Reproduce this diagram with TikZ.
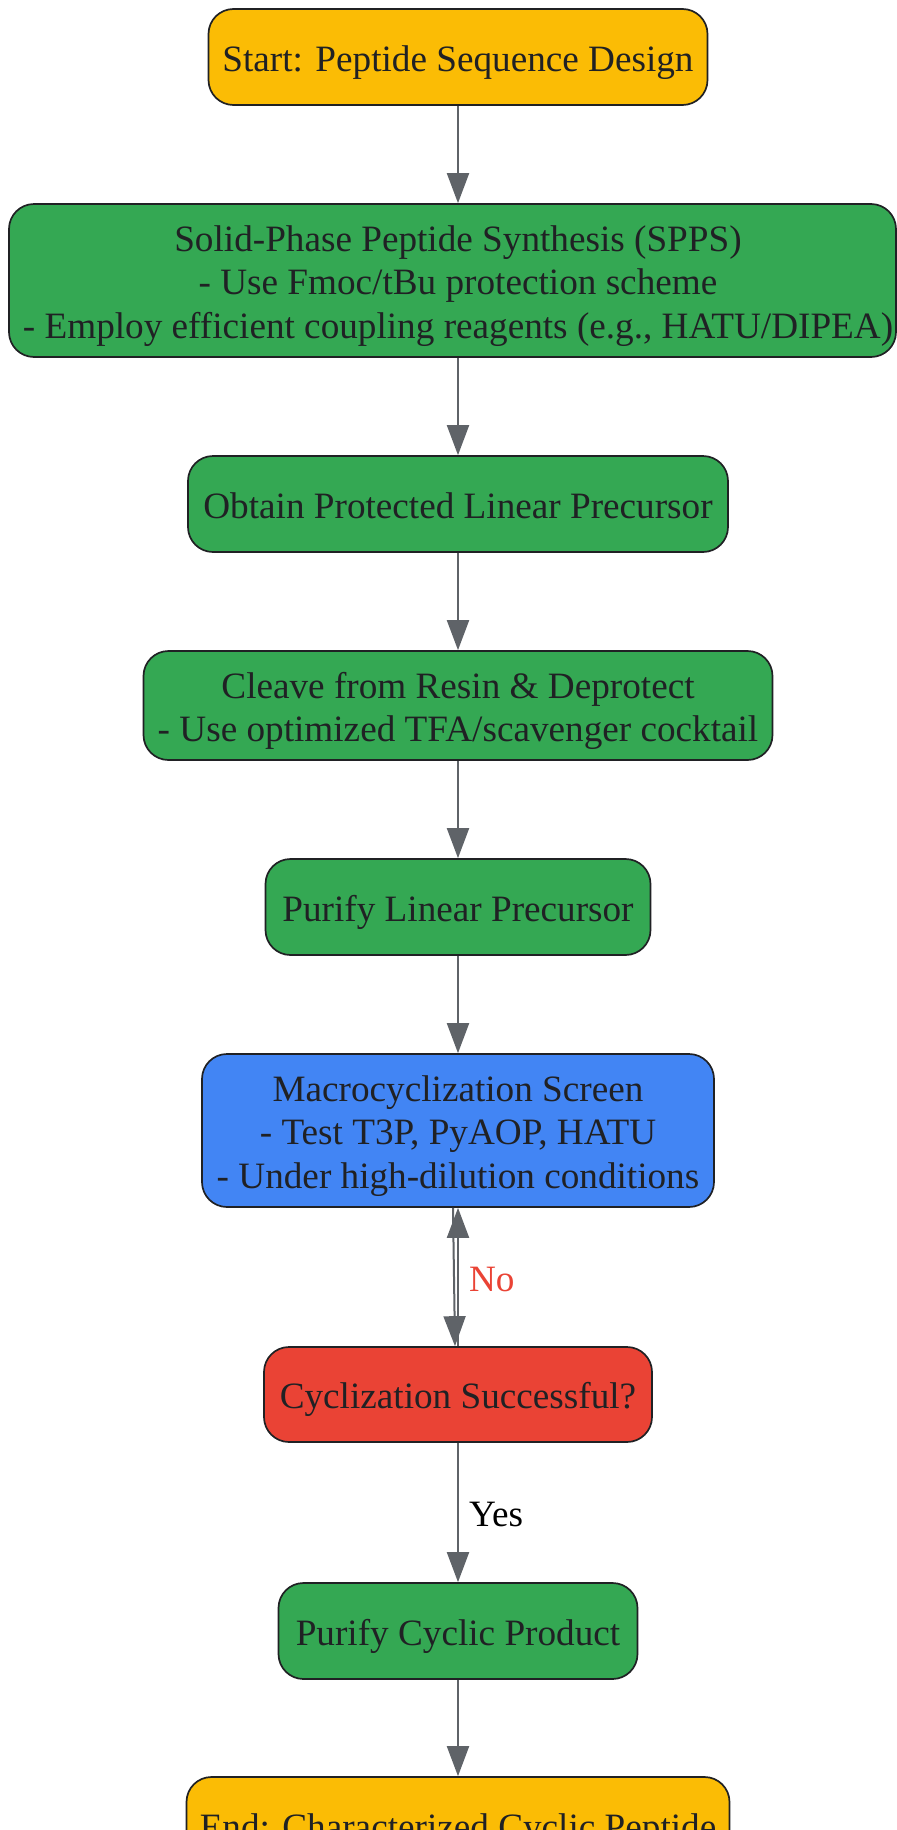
\documentclass[tikz,border=0pt]{standalone}
\usepackage{fontspec}
\setmainfont{Liberation Serif}
\usetikzlibrary{arrows.meta}
\definecolor{cyellow}{HTML}{FBBC05}
\definecolor{cgreen}{HTML}{34A853}
\definecolor{cblue}{HTML}{4285F4}
\definecolor{cred}{HTML}{EA4335}
\definecolor{cedge}{HTML}{5F6368}
\definecolor{ctext}{HTML}{202124}
\definecolor{cborder}{HTML}{202124}
\newcommand{\topst}{\rule{0pt}{1.02em}}
\newcommand{\botst}{\rule[-0.25em]{0pt}{0.25em}}
\begin{document}
\begin{tikzpicture}[x=1bp,y=-1bp,
  mfont/.style={font=\fontsize{37.2bp}{43.5bp}\selectfont},
  boxshape/.style={draw=cborder, line width=1.7bp, rounded corners=25bp},
  box/.style={boxshape, mfont, inner sep=0pt, align=center, text=ctext},
  arr/.style={draw=cedge, line width=2bp, -{Triangle[length=30bp,width=22bp]}},
  lbl/.style={mfont, inner sep=0pt, anchor=west}]
\useasboundingbox (0,0) rectangle (897,1830);
\fill[white] (0,0) rectangle (897,1830);

\node[box, fill=cyellow, minimum width=499bp, minimum height=96bp] (start) at (458,57)
  {\topst Start: Peptide Sequence Design\botst};

\filldraw[boxshape, fill=cgreen] (9,204) rectangle (896,357);
\node[box, draw=none, minimum height=153bp] (spps) at (458,280.5)
  {\topst Solid-Phase Peptide Synthesis (SPPS)\\- Use Fmoc/tBu protection scheme\\- Employ efficient coupling reagents (e.g., HATU/DIPEA)\botst};

\node[box, fill=cgreen, minimum width=540bp, minimum height=96bp] (obtain) at (458,504)
  {\topst Obtain Protected Linear Precursor\botst};

\node[box, fill=cgreen, minimum width=629bp, minimum height=109bp] (cleave) at (458,705.5)
  {\topst Cleave from Resin \& Deprotect\\- Use optimized TFA/scavenger cocktail\botst};

\node[box, fill=cgreen, minimum width=385bp, minimum height=96bp] (purlin) at (458,907)
  {\topst Purify Linear Precursor\botst};

\node[box, fill=cblue, minimum width=512bp, minimum height=153bp] (macro) at (458,1130.5)
  {\topst Macrocyclization Screen\\- Test T3P, PyAOP, HATU\\- Under high-dilution conditions\botst};

\node[box, fill=cred, minimum width=388bp, minimum height=95bp] (cyc) at (458,1394.5)
  {\topst Cyclization Successful?\botst};

\node[box, fill=cgreen, minimum width=359bp, minimum height=96bp] (purcyc) at (458,1631)
  {\topst Purify Cyclic Product\botst};

\node[box, fill=cyellow, minimum width=543bp, minimum height=96bp] (end) at (458,1825)
  {\topst End: Characterized Cyclic Peptide\botst};

\draw[arr] (start) -- (spps);
\draw[arr] (spps) -- (obtain);
\draw[arr] (obtain) -- (cleave);
\draw[arr] (cleave) -- (purlin);
\draw[arr] (purlin) -- (macro);
\draw[arr] ([xshift=-5bp]macro.south) -- ([xshift=-3bp]cyc.north);
\draw[arr] (cyc.north) -- (macro.south)
  node[lbl, pos=0.5, xshift=10bp, text=cred] {\topst No\botst};
\draw[arr] (cyc) -- (purcyc)
  node[lbl, pos=0.5, xshift=10bp, text=black] {\topst Yes\botst};
\draw[arr] (purcyc) -- (end);
\end{tikzpicture}
\end{document}
